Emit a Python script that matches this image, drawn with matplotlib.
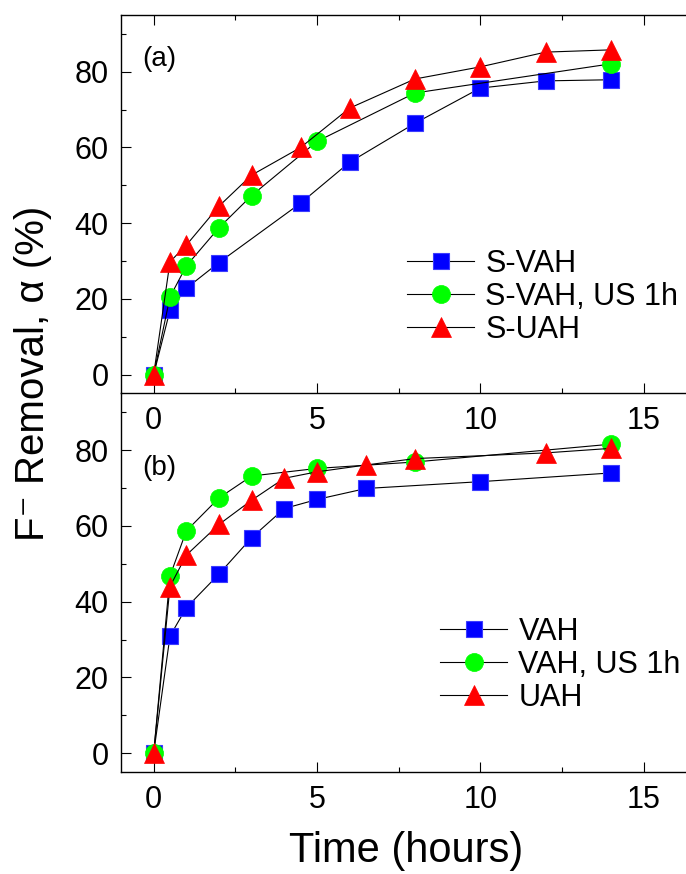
import matplotlib
matplotlib.use('Agg')
import matplotlib.pyplot as plt
from matplotlib.ticker import MultipleLocator

plt.rcParams['font.family'] = ['Liberation Sans', 'DejaVu Sans']

# panel (a)
t_svah = [0, 0.5, 1, 2, 4.5, 6, 8, 10, 12, 14]
svah = [0, 17.0, 22.8, 29.6, 45.3, 56.1, 66.4, 75.7, 77.6, 77.9]
t_svah_us = [0, 0.5, 1, 2, 3, 5, 8, 14]
svah_us = [0, 20.5, 28.7, 38.8, 47.3, 61.6, 74.4, 82.1]
t_suah = [0, 0.5, 1, 2, 3, 4.5, 6, 8, 10, 12, 14]
suah = [0, 29.8, 34.2, 44.5, 52.7, 60.0, 70.4, 78.1, 81.3, 85.2, 85.8]

# panel (b)
t_vah = [0, 0.5, 1, 2, 3, 4, 5, 6.5, 10, 14]
vah = [0, 30.9, 38.4, 47.3, 56.9, 64.6, 67.0, 69.9, 71.7, 74.0]
t_vah_us = [0, 0.5, 1, 2, 3, 5, 8, 14]
vah_us = [0, 46.8, 58.7, 67.4, 73.2, 75.2, 76.9, 81.6]
t_uah = [0, 0.5, 1, 2, 3, 4, 5, 6.5, 8, 12, 14]
uah = [0, 44.0, 52.3, 60.4, 66.8, 72.6, 74.3, 76.1, 77.8, 79.3, 80.5]

labels_a = ['S-VAH', 'S-VAH, US 1h', 'S-UAH']
labels_b = ['VAH', 'VAH, US 1h', 'UAH']

fig = plt.figure(figsize=(6.86, 8.74), dpi=100)
ax1 = fig.add_axes([0.1764, 0.5498, 0.8236, 0.4330])
ax2 = fig.add_axes([0.1764, 0.1167, 0.8236, 0.4331])
ax2.patch.set_visible(False)  # labels of (a) sit inside (b)

styles = [
    dict(marker='s', ms=11.5, color='k', mfc='#0000ff', mec='#3c3cff', mew=0.8),
    dict(marker='o', ms=13, color='k', mfc='#00ff00', mec='#00ff00', mew=0.5),
    dict(marker='^', ms=15, color='k', mfc='#ff0000', mec='#ff0000', mew=0.5),
]

series_a = [(t_svah, svah), (t_svah_us, svah_us), (t_suah, suah)]
series_b = [(t_vah, vah), (t_vah_us, vah_us), (t_uah, uah)]

for ax, series, labels in [(ax1, series_a, labels_a), (ax2, series_b, labels_b)]:
    for (t, v), st, lab in zip(series, styles, labels):
        ax.plot(t, v, lw=0.8, label=lab, **st)
    ax.set_xlim(-1, 16.3)
    ax.set_ylim(-5, 95)
    ax.xaxis.set_major_locator(MultipleLocator(5))
    ax.xaxis.set_minor_locator(MultipleLocator(2.5))
    ax.yaxis.set_major_locator(MultipleLocator(20))
    ax.yaxis.set_minor_locator(MultipleLocator(10))
    ax.tick_params(which='both', direction='in', labelsize=22, width=0.8, pad=9)
    ax.tick_params(which='major', length=7.5)
    ax.tick_params(which='minor', length=3.8)
    ax.spines['right'].set_visible(False)
    for s in ['left', 'top', 'bottom']:
        ax.spines[s].set_linewidth(1.0)

ax1.tick_params(axis='x', which='both', top=True)
ax2.spines['top'].set_visible(False)

ax1.text(0.037, 0.884, '(a)', transform=ax1.transAxes, fontsize=20,
         ha='left', va='center')
ax2.text(0.037, 0.803, '(b)', transform=ax2.transAxes, fontsize=20,
         ha='left', va='center')

leg_kw = dict(frameon=False, fontsize=22, handlelength=2.2, handletextpad=0.36,
              labelspacing=0.1, borderpad=0, borderaxespad=0, loc='center left')
ax1.legend(bbox_to_anchor=(0.506, 0.255), **leg_kw)
ax2.legend(bbox_to_anchor=(0.565, 0.283), **leg_kw)

fig.text(406 / 686, 1 - 862 / 874, 'Time (hours)', fontsize=30,
         ha='center', va='baseline')
fig.text(33 / 686, 1 - 373.5 / 874, 'F\u207b Removal, \u03b1 (%)',
         fontsize=29, rotation=90, ha='center', va='center',
         family=['Liberation Sans', 'DejaVu Sans'])

fig.savefig('out.png', dpi=100)
